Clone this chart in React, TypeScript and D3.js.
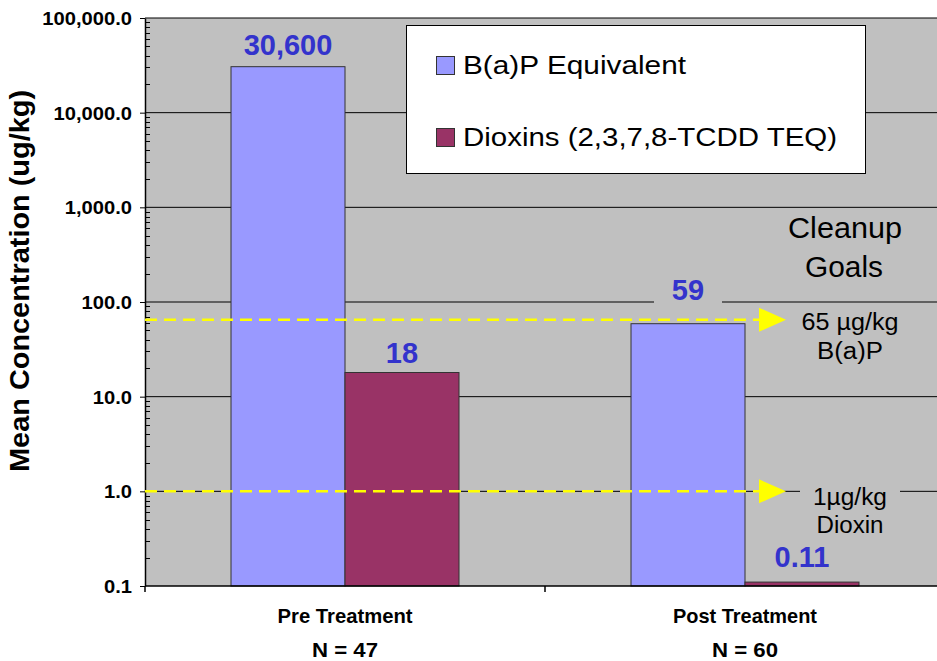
import React, { useRef, useEffect } from 'react';
import * as d3 from 'd3';

const categories = ['Pre Treatment', 'Post Treatment'];
const sampleSizes = ['N = 47', 'N = 60'];
const seriesNames = ['B(a)P Equivalent', 'Dioxins (2,3,7,8-TCDD TEQ)'];
const bapValues = [30600, 59];
const dioxinValues = [18, 0.11];
const valueLabels = [['30,600', '59'], ['18', '0.11']];
const yTicks = [0.1, 1, 10, 100, 1000, 10000, 100000];
const goalValues = [65, 1];
const goalLabels = [['65 \u00b5g/kg', 'B(a)P'], ['1\u00b5g/kg', 'Dioxin']];

const App = () => {
  const chartRef = useRef(null);

  useEffect(() => {
    const svg = d3.select(chartRef.current);
    svg.selectAll('*').remove();

    const margin = { top: 18, left: 145, right: 945, bottom: 586 };
    const font = 'Liberation Sans, Arial, sans-serif';
    const colors = ['#9999FF', '#993366'];
    const series = [bapValues, dioxinValues];
    // label distance above the bar top (manual placement in the original)
    const labelGap = [[12, 24], [10, 15]];

    const y = d3.scaleLog().domain([0.1, 100000]).range([margin.bottom, margin.top]);
    const x = d3.scaleBand().domain(categories).range([margin.left, margin.right]);
    const xs = d3.scaleBand().domain(seriesNames).range([86, 314]);

    // plot area
    svg.append('rect')
      .attr('x', margin.left).attr('y', margin.top)
      .attr('width', margin.right - margin.left).attr('height', margin.bottom - margin.top)
      .attr('fill', '#C0C0C0');

    // gridlines
    svg.append('g').selectAll('line').data(yTicks.slice(1)).join('line')
      .attr('x1', margin.left).attr('x2', margin.right)
      .attr('y1', (d) => y(d)).attr('y2', (d) => y(d))
      .attr('stroke', '#000').attr('stroke-width', 1);

    // minor ticks
    const minor = y.ticks().filter((d) => !yTicks.includes(d));
    svg.append('g').selectAll('line').data(minor).join('line')
      .attr('x1', margin.left).attr('x2', margin.left + 5)
      .attr('y1', (d) => Math.round(y(d)) + 0.5).attr('y2', (d) => Math.round(y(d)) + 0.5)
      .attr('stroke', '#000');

    // y axis
    const yAxis = svg.append('g')
      .attr('transform', `translate(${margin.left},0)`)
      .call(d3.axisLeft(y).tickValues(yTicks).tickFormat(d3.format(',.1f')).tickSize(5).tickSizeOuter(0));
    yAxis.select('.domain').attr('stroke', '#000').attr('stroke-width', 1.5);
    yAxis.selectAll('text')
      .attr('font-family', font).attr('font-size', 18).attr('font-weight', 'bold').attr('fill', '#000')
      .attr('transform', 'scale(1.12,1)')
      .attr('x', -13 / 1.12).attr('dy', '0.36em');

    // y axis title
    svg.append('text')
      .attr('transform', 'translate(29,281) rotate(-90)')
      .attr('text-anchor', 'middle')
      .attr('font-family', font).attr('font-size', 28).attr('font-weight', 'bold')
      .attr('textLength', 382).attr('lengthAdjust', 'spacingAndGlyphs')
      .text('Mean Concentration (ug/kg)');

    // bars
    series.forEach((vals, si) => {
      svg.append('g').selectAll('rect').data(vals).join('rect')
        .attr('x', (d, i) => x(categories[i]) + xs(seriesNames[si]))
        .attr('y', (d) => y(d))
        .attr('width', xs.bandwidth())
        .attr('height', (d) => margin.bottom - y(d))
        .attr('fill', colors[si])
        .attr('stroke', '#333').attr('stroke-width', 1);
    });

    // x axis
    svg.append('line')
      .attr('x1', margin.left).attr('x2', margin.right)
      .attr('y1', margin.bottom).attr('y2', margin.bottom)
      .attr('stroke', '#000').attr('stroke-width', 1.5);
    svg.append('g').selectAll('line').data([0, 1, 2]).join('line')
      .attr('x1', (d) => margin.left + d * x.bandwidth())
      .attr('x2', (d) => margin.left + d * x.bandwidth())
      .attr('y1', margin.bottom).attr('y2', margin.bottom + 6)
      .attr('stroke', '#000').attr('stroke-width', 1.5);

    const catWidths = [135, 144];
    categories.forEach((c, i) => {
      const cx = x(c) + x.bandwidth() / 2;
      svg.append('text').attr('x', cx).attr('y', 623).attr('text-anchor', 'middle')
        .attr('font-family', font).attr('font-size', 21).attr('font-weight', 'bold')
        .attr('textLength', catWidths[i]).attr('lengthAdjust', 'spacingAndGlyphs')
        .text(c);
      svg.append('text').attr('x', cx).attr('y', 657).attr('text-anchor', 'middle')
        .attr('font-family', font).attr('font-size', 21).attr('font-weight', 'bold')
        .attr('textLength', 66).attr('lengthAdjust', 'spacingAndGlyphs')
        .text(sampleSizes[i]);
    });

    // goal lines with arrows
    const goalText = [
      { base: [330, 359], widths: [97, 66] },
      { base: [505, 533], widths: [74, 67] },
    ];
    goalValues.forEach((g, gi) => {
      const gy = y(g);
      svg.append('line')
        .attr('x1', margin.left).attr('x2', 762)
        .attr('y1', gy).attr('y2', gy)
        .attr('stroke', '#FFFF00').attr('stroke-width', 2.5)
        .attr('stroke-dasharray', '12,7');
      svg.append('path')
        .attr('d', `M759,${gy - 12}L786,${gy}L759,${gy + 12}Z`)
        .attr('fill', '#FFFF00');
      if (gi === 1) {
        svg.append('rect').attr('x', 800).attr('y', gy - 12).attr('width', 100).attr('height', 24)
          .attr('fill', '#C0C0C0');
      }
      goalLabels[gi].forEach((t, li) => {
        svg.append('text').attr('x', 850).attr('y', goalText[gi].base[li])
          .attr('text-anchor', 'middle')
          .attr('font-family', font).attr('font-size', 23)
          .attr('textLength', goalText[gi].widths[li]).attr('lengthAdjust', 'spacingAndGlyphs')
          .text(t);
      });
    });

    svg.append('text').attr('x', 845).attr('y', 238).attr('text-anchor', 'middle')
      .attr('font-family', font).attr('font-size', 30)
      .attr('textLength', 114).attr('lengthAdjust', 'spacingAndGlyphs')
      .text('Cleanup');
    svg.append('text').attr('x', 844).attr('y', 277).attr('text-anchor', 'middle')
      .attr('font-family', font).attr('font-size', 30)
      .attr('textLength', 78).attr('lengthAdjust', 'spacingAndGlyphs')
      .text('Goals');

    // value labels
    series.forEach((vals, si) => {
      vals.forEach((v, i) => {
        const cx = x(categories[i]) + xs(seriesNames[si]) + xs.bandwidth() / 2;
        const label = valueLabels[si][i];
        const by = y(v) - labelGap[si][i];
        if (label === '59') {
          svg.append('rect').attr('x', cx - 34).attr('y', by - 26).attr('width', 68).attr('height', 32)
            .attr('fill', '#C0C0C0');
        }
        svg.append('text').attr('x', cx).attr('y', by)
          .attr('text-anchor', 'middle')
          .attr('font-family', font).attr('font-size', 29).attr('font-weight', 'bold')
          .attr('fill', '#3333CC')
          .text(label);
      });
    });

    // legend
    const lg = svg.append('g');
    lg.append('rect').attr('x', 406.5).attr('y', 25.5).attr('width', 459).attr('height', 148)
      .attr('fill', '#fff').attr('stroke', '#000').attr('stroke-width', 1);
    const legendWidths = [223, 374];
    seriesNames.forEach((s, i) => {
      const top = 56 + i * 72;
      lg.append('rect').attr('x', 436.5).attr('y', top + 0.5).attr('width', 18).attr('height', 18)
        .attr('fill', colors[i]).attr('stroke', '#333');
      lg.append('text').attr('x', 463).attr('y', top + 18)
        .attr('font-family', font).attr('font-size', 25)
        .attr('textLength', legendWidths[i]).attr('lengthAdjust', 'spacingAndGlyphs')
        .text(s);
    });
  }, []);

  return (
    <svg
      ref={chartRef}
      width={937}
      height={661}
      style={{ position: 'absolute', left: 0, top: 0, background: '#fff' }}
    />
  );
};

export default App;
